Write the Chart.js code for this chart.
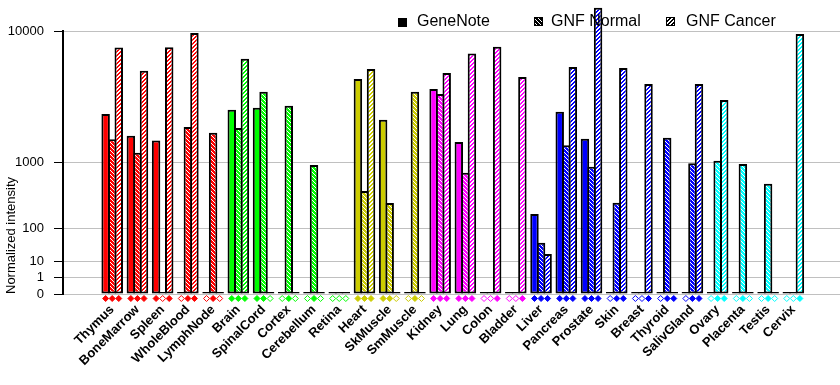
<!DOCTYPE html>
<html>
<head>
<meta charset="utf-8">
<script src="https://cdn.jsdelivr.net/npm/chart.js@4.4.1/dist/chart.umd.min.js"></script>
<style>
  html, body { margin: 0; padding: 0; background: #fff; }
  #wrap { width: 840px; height: 385px; position: relative; }
</style>
</head>
<body>
<div id="wrap"><canvas id="chart-tissues"></canvas></div>
<script>
var tissues = ['Thymus', 'BoneMarrow', 'Spleen', 'WholeBlood', 'LymphNode',
  'Brain', 'SpinalCord', 'Cortex', 'Cerebellum', 'Retina',
  'Heart', 'SkMuscle', 'SmMuscle',
  'Kidney', 'Lung', 'Colon', 'Bladder',
  'Liver', 'Pancreas', 'Prostate', 'Skin', 'Breast', 'Thyroid', 'SalivGland',
  'Ovary', 'Placenta', 'Testis', 'Cervix']

var geneNote  = [2840, 1850, 1670, 0, 0,  3070, 3180, 0, 0, 0,  5120, 2550, 0,  4370, 1620, 0, 0,  192, 2960, 1740, 0, 0, 0, 0,  0, 0, 0, 0]
var gnfNormal = [1720, 1270, 0, 2210, 1970,  2170, 4180, 3290, 940, 0,  444, 294, 4180,  4030, 765, 0, 0,  44, 1510, 897, 297, 0, 1775, 980,  1047, 962, 558, 0]
var gnfCancer = [8050, 5800, 8100, 9760, 0,  6900, 0, 0, 0, 0,  5960, 0, 0,  5610, 7420, 8140, 5280,  19, 6130, 13250, 6050, 4730, 0, 4730,  3640, 0, 0, 9630]

// 1 = called present (filled diamond), 0 = absent (hollow diamond)
var geneNoteCalls = [1, 1, 1, 0, 0,  1, 1, 0, 0, 0,  1, 1, 0,  1, 1, 0, 0,  1, 1, 1, 0, 0, 0, 0,  0, 0, 0, 0]
var normalCalls   = [1, 1, 0, 1, 1,  1, 1, 1, 1, 0,  1, 1, 1,  1, 1, 0, 0,  1, 1, 1, 1, 0, 1, 1,  1, 1, 1, 0]
var cancerCalls   = [1, 1, 1, 1, 0,  1, 0, 0, 0, 0,  1, 0, 0,  1, 1, 1, 1,  1, 1, 1, 1, 1, 1, 1,  1, 0, 0, 1]

var yTicks = [0, 1, 10, 100, 1000, 10000]

// colour of each tissue's organ system
var tissueColor = ['#ff0000', '#ff0000', '#ff0000', '#ff0000', '#ff0000',
  '#00ff00', '#00ff00', '#00ff00', '#00ff00', '#00ff00',
  '#cccc00', '#cccc00', '#cccc00',
  '#ff00ff', '#ff00ff', '#ff00ff', '#ff00ff',
  '#0000ff', '#0000ff', '#0000ff', '#0000ff', '#0000ff', '#0000ff', '#0000ff',
  '#00ffff', '#00ffff', '#00ffff', '#00ffff']

var FONT = '"Liberation Sans", Arial, sans-serif'

// axis is a power scale: every decade takes twice the height of the one below
function toAxis(v) { return v > 0 ? Math.pow(v, Math.log10(2)) : 0 }

function makePattern(color, kind) {
  var c = document.createElement('canvas')
  c.width = 4; c.height = 4
  var g = c.getContext('2d')
  var i
  if (kind === 'normal') {
    g.fillStyle = color; g.fillRect(0, 0, 4, 4)
    g.fillStyle = '#fff'
    for (i = 0; i < 4; i++) g.fillRect(i, i, 1, 1)
  } else {
    g.fillStyle = '#fff'; g.fillRect(0, 0, 4, 4)
    g.fillStyle = color
    for (i = 0; i < 4; i++) { g.fillRect((3 - i) % 4, i, 1, 1); g.fillRect((4 - i) % 4, i, 1, 1) }
  }
  return g.createPattern(c, 'repeat')
}

var normalFill = tissueColor.map(function (c) { return makePattern(c, 'normal') })
var cancerFill = tissueColor.map(function (c) { return makePattern(c, 'cancer') })

function series(values) {
  return values.map(function (v, i) { return { x: i, y: toAxis(v) } })
}

var barStyle = {
  borderColor: '#000',
  borderWidth: 2,
  borderSkipped: false,
  minBarLength: 2,
  categoryPercentage: 0.78,
  barPercentage: 1.29,
  clip: false
}

var callMarks = {
  id: 'callMarks',
  afterDatasetsDraw: function (chart) {
    var ctx = chart.ctx
    var y = chart.scales.y.getPixelForValue(0) + 4.5
    var calls = [geneNoteCalls, normalCalls, cancerCalls]
    ctx.save()
    calls.forEach(function (list, d) {
      chart.getDatasetMeta(d).data.forEach(function (bar, i) {
        var x = bar.x
        ctx.beginPath()
        ctx.moveTo(x, y - 3)
        ctx.lineTo(x + 3, y)
        ctx.lineTo(x, y + 3)
        ctx.lineTo(x - 3, y)
        ctx.closePath()
        ctx.lineWidth = 1
        ctx.strokeStyle = tissueColor[i]
        ctx.fillStyle = list[i] ? tissueColor[i] : '#fff'
        ctx.fill()
        ctx.stroke()
      })
    })
    ctx.restore()
  }
}

var topLegend = {
  id: 'topLegend',
  afterDraw: function (chart) {
    var ctx = chart.ctx
    ctx.save()
    ctx.fillStyle = '#000'
    ctx.fillRect(398, 18, 9, 9)
    ctx.fillStyle = makePattern('#000', 'normal')
    ctx.fillRect(534, 17, 9, 9)
    ctx.fillStyle = makePattern('#000', 'cancer')
    ctx.fillRect(666, 17, 9, 9)
    ctx.strokeStyle = '#000'
    ctx.lineWidth = 1
    ctx.strokeRect(534.5, 17.5, 8, 8)
    ctx.strokeRect(666.5, 17.5, 8, 8)
    ctx.fillStyle = '#000'
    ctx.font = '16px ' + FONT
    ctx.textBaseline = 'alphabetic'
    ctx.fillText('GeneNote', 417, 26)
    ctx.fillText('GNF Normal', 551, 26)
    ctx.fillText('GNF Cancer', 686, 26)
    ctx.restore()
  }
}

new Chart(document.getElementById('chart-tissues'), {
  type: 'bar',
  data: {
    datasets: [
      Object.assign({ label: 'GeneNote', data: series(geneNote), backgroundColor: tissueColor }, barStyle),
      Object.assign({ label: 'GNF Normal', data: series(gnfNormal), backgroundColor: normalFill }, barStyle),
      Object.assign({ label: 'GNF Cancer', data: series(gnfCancer), backgroundColor: cancerFill }, barStyle)
    ]
  },
  options: {
    responsive: true,
    maintainAspectRatio: false,
    animation: false,
    layout: { padding: { top: 31, right: 0, bottom: 0, left: 0 } },
    plugins: {
      legend: { display: false },
      tooltip: { enabled: false }
    },
    scales: {
      x: {
        type: 'linear',
        min: -1.4,
        max: 28.3,
        afterBuildTicks: function (scale) {
          scale.ticks = tissues.map(function (t, i) { return { value: i } })
        },
        afterFit: function (scale) { scale.height = 91 },
        grid: { display: false, drawTicks: false },
        border: { display: false },
        ticks: {
          autoSkip: false,
          minRotation: 45,
          maxRotation: 45,
          padding: 8,
          color: '#000',
          font: { family: FONT, size: 13, weight: 'bold' },
          callback: function (v) { return tissues[v] }
        }
      },
      y: {
        min: 0,
        max: toAxis(10000),
        afterBuildTicks: function (scale) {
          scale.ticks = yTicks.map(function (v) { return { value: toAxis(v) } })
        },
        afterFit: function (scale) { scale.width = 63 },
        grid: { color: '#c0c0c0', tickColor: '#000', tickLength: 9, lineWidth: 1 },
        border: { color: '#000', width: 2 },
        ticks: {
          padding: 10,
          color: '#000',
          font: { family: FONT, size: 13 },
          callback: function (v, i) { return String(yTicks[i]) }
        },
        title: {
          display: true,
          text: 'Normalized intensity',
          align: 'start',
          color: '#000',
          font: { family: FONT, size: 13 },
          padding: { top: 4, bottom: 4 }
        }
      }
    }
  },
  plugins: [callMarks, topLegend]
})
</script>
</body>
</html>
